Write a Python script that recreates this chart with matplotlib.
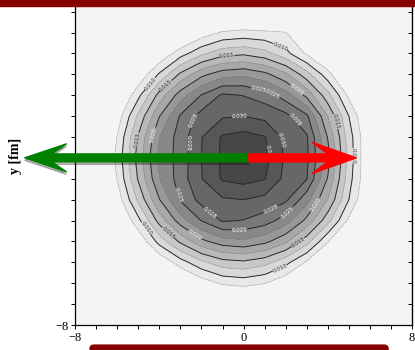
import numpy as np
import matplotlib.pyplot as plt
from matplotlib.patches import FancyArrow, Rectangle, FancyBboxPatch

# grid of the density map (fm)
x_fm = [-7, -6, -5, -4, -3, -2, -1, 0, 1, 2, 3, 4, 5, 6, 7]
y_fm = [7, 6, 5, 4, 3, 2, 1, 0, -1, -2, -3, -4, -5, -6, -7]

# density values, units of 1e-3, rows from y=7 down to y=-7
density = [
    [0.1, 0.2, 0.35, 0.5, 0.95, 1.4, 1.8, 2.3, 1.6, 1.15, 0.8, 0.45, 0.3, 0.2, 0.1],
    [0.2, 0.4, 0.85, 1.65, 3.45, 6.0, 7.8, 8.3, 8.0, 7.6, 4.0, 1.2, 0.5, 0.3, 0.2],
    [0.37, 0.8, 2.2, 5.2, 8.85, 11.9, 14.0, 14.5, 13.4, 10.8, 7.1, 3.65, 1.1, 0.5, 0.3],
    [0.6, 1.8, 5.3, 10.35, 15.5, 19.3, 21.4, 22.0, 20.7, 18.0, 13.5, 8.5, 2.95, 1.05, 0.4],
    [1.1, 3.9, 9.3, 16.0, 21.3, 25.1, 27.9, 27.4, 26.3, 23.7, 19.3, 13.4, 6.9, 2.3, 0.7],
    [1.7, 6.0, 13.0, 19.9, 25.3, 28.4, 29.7, 30.0, 29.3, 28.2, 25.5, 17.4, 10.0, 3.95, 1.0],
    [2.3, 7.6, 15.3, 22.4, 26.2, 29.9, 32.8, 33.4, 32.6, 29.2, 27.8, 19.8, 11.2, 4.6, 1.3],
    [2.5, 8.25, 16.1, 23.2, 26.0, 30.0, 33.0, 35.3, 33.4, 29.6, 28.0, 21.0, 11.5, 4.5, 1.5],
    [2.3, 7.6, 15.3, 22.4, 26.2, 29.9, 32.8, 33.4, 32.6, 29.2, 27.6, 19.8, 11.0, 4.6, 1.3],
    [1.7, 6.0, 13.0, 19.9, 25.3, 28.4, 29.7, 30.0, 29.3, 28.0, 23.4, 17.4, 10.0, 3.95, 1.0],
    [1.1, 3.9, 9.3, 16.0, 21.3, 25.1, 27.8, 27.4, 26.3, 23.7, 19.3, 13.4, 6.9, 2.3, 0.7],
    [0.6, 1.8, 5.3, 11.0, 15.5, 19.3, 21.4, 22.0, 20.7, 18.0, 13.5, 7.7, 2.95, 1.05, 0.4],
    [0.37, 0.8, 2.2, 5.2, 8.85, 11.9, 14.0, 14.5, 13.4, 10.8, 7.1, 3.65, 1.1, 0.5, 0.3],
    [0.2, 0.4, 0.85, 1.65, 3.45, 6.0, 7.9, 8.4, 7.6, 5.5, 2.45, 1.2, 0.5, 0.3, 0.2],
    [0.1, 0.2, 0.35, 0.5, 0.95, 1.4, 2.0, 2.5, 1.6, 1.15, 0.8, 0.45, 0.3, 0.2, 0.1],
]

levels = [0.0075, 0.010, 0.0125, 0.015, 0.0175, 0.020, 0.0225, 0.025,
          0.0275, 0.030, 0.0325]
solid_levels = [0.010, 0.015, 0.020, 0.025, 0.0275, 0.030, 0.0325]
dotted_levels = [0.0075, 0.0125, 0.0175, 0.0225]

# where the contour labels sit (fm)
label_spots = [(1.7, 5.2), (-0.8, 4.9), (-4.5, 3.6), (-3.5, 3.25), (0.8, 3.7),
               (1.4, 3.1), (2.5, 3.25), (4.2, 1.7), (-0.2, 2.0), (2.3, 1.7),
               (-2.1, 1.7), (-2.6, 0.7), (-4.0, 1.0), (-5.1, 0.85), (1.9, 0.85),
               (1.3, 0.3), (5.3, 0.1), (-3.4, -1.85), (-1.5, -2.5), (1.2, -2.2),
               (2.3, -2.8), (3.4, -2.2), (-0.2, -3.3), (-4.5, -3.3), (-3.6, -3.6),
               (-2.4, -3.8), (2.5, -3.9), (1.6, -5.0)]

ytick_labels = {-8: "\u22128", 0: "0"}
xtick_labels = {-8: "\u22128", 0: "0", 8: "8"}

Z = np.array(density) * 1e-3
X, Y = np.meshgrid(x_fm, y_fm)

fig = plt.figure(figsize=(4.15, 3.5), dpi=100)
ax = fig.add_axes([0.181, 0.0714, 0.812, 0.955])
ax.set_facecolor("#f4f4f4")

band_cols = plt.cm.gray(np.linspace(0.91, 0.28, len(levels)))
ax.contourf(X, Y, Z, levels=levels + [0.05], colors=band_cols)
ax.contour(X, Y, Z, levels=dotted_levels, colors="#6a6a6a",
           linewidths=0.5, linestyles=":")
cs = ax.contour(X, Y, Z, levels=solid_levels, colors="#2a2a2a",
                linewidths=0.7, linestyles="-")
ax.clabel(cs, fmt=lambda v: f"{v:.3f}", fontsize=4, inline=True,
          inline_spacing=1, manual=label_spots,
          colors=["#333333", "#333333", "white", "white", "white", "white", "white"])

ax.set_xlim(-8, 8)
ax.set_ylim(-8, 8)
ax.set_xticks(range(-8, 9))
ax.set_yticks(range(-8, 9))
ax.set_xticklabels([xtick_labels.get(t, "") for t in range(-8, 9)])
ax.set_yticklabels([ytick_labels.get(t, "") for t in range(-8, 9)])
ax.tick_params(direction="out", length=3, width=0.7, labelsize=9, pad=2)
for lb in ax.get_xticklabels() + ax.get_yticklabels():
    lb.set_family("Liberation Serif")
for sp in ax.spines.values():
    sp.set_linewidth(0.9)
sec = ax.secondary_yaxis("right")
sec.set_yticks(range(-8, 9))
sec.tick_params(direction="in", length=3, width=0.7, labelright=False)

ax.set_ylabel("y [fm]", fontsize=10, fontweight="bold", family="Liberation Serif")
ax.yaxis.set_label_coords(-0.157, 0.506)

# arrows along y = 0
shadow = FancyArrow(0.25, -0.12, -10.65, 0, width=0.38, head_width=1.35,
                    head_length=2.0, overhang=0.35, length_includes_head=True,
                    color="black", alpha=0.25, clip_on=False, zorder=4)
green = FancyArrow(0.25, 0, -10.65, 0, width=0.38, head_width=1.35,
                   head_length=2.0, overhang=0.35, length_includes_head=True,
                   color="#008000", clip_on=False, zorder=5)
red = FancyArrow(0.25, 0, 5.1, 0, width=0.38, head_width=1.5,
                 head_length=2.1, overhang=0.35, length_includes_head=True,
                 color="#ff0000", clip_on=False, zorder=6)
ax.add_patch(shadow)
ax.add_patch(green)
ax.add_patch(red)

# maroon bars of the slide
fig.patches.append(Rectangle((0, 0.983), 1, 0.02, transform=fig.transFigure,
                             color="#860000", zorder=10))
fig.patches.append(FancyBboxPatch((0.217, -0.02), 0.718, 0.034,
                                  boxstyle="round,pad=0,rounding_size=0.01",
                                  transform=fig.transFigure, color="#860000",
                                  zorder=10))

fig.savefig("out.png", dpi=100)
